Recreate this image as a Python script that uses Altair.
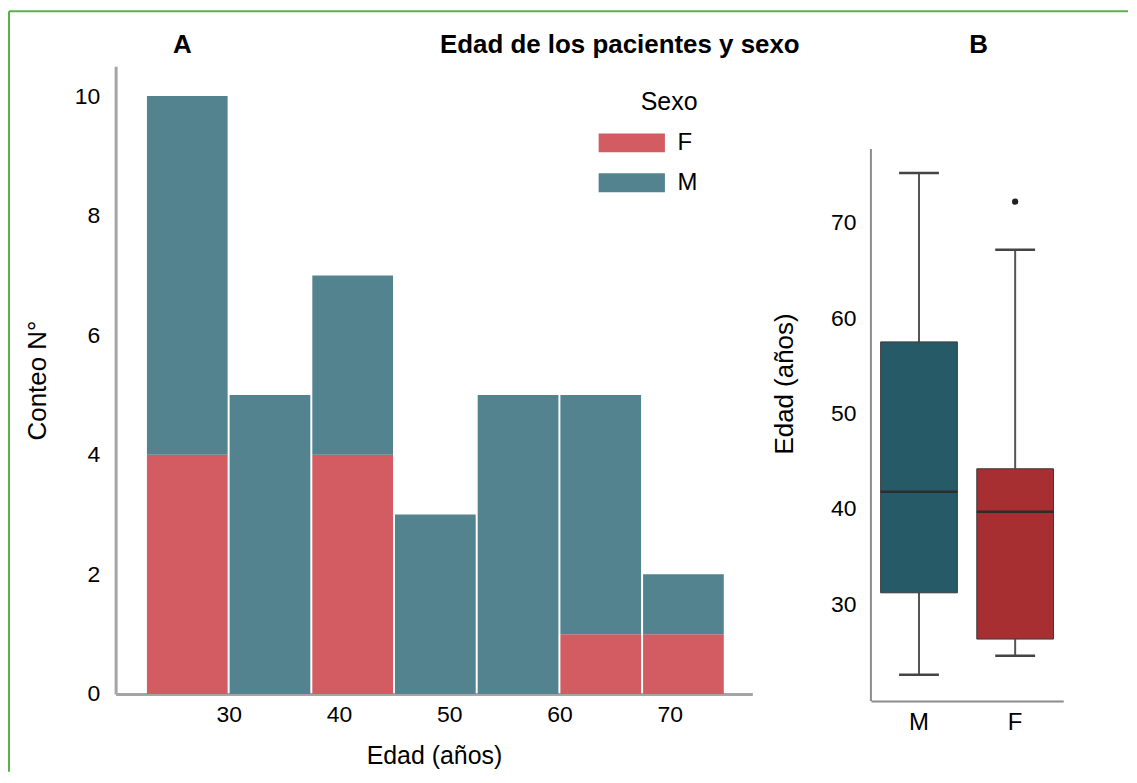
import altair as alt
import pandas as pd

# ---------------- Data ----------------
# Panel A: age histogram, stacked by sex
bin_start = [22.5, 30.0, 37.5, 45.0, 52.5, 60.0, 67.5]
bin_end = [30.0, 37.5, 45.0, 52.5, 60.0, 67.5, 75.0]
count_F = [4, 0, 4, 0, 0, 1, 1]
count_M = [6, 5, 3, 3, 5, 4, 1]
sexes = ["F", "M"]
hist_colors = ["#d35b62", "#53838e"]
x_ticks_A = [30, 40, 50, 60, 70]
y_ticks_A = [0, 2, 4, 6, 8, 10]

# Panel B: box plot summaries of age by sex
box_sex = ["M", "F"]
box_low = [22.6, 24.6]
box_q1 = [31.2, 26.35]
box_median = [41.8, 39.7]
box_q3 = [57.5, 44.2]
box_high = [75.2, 67.15]
outlier_sex = ["F"]
outlier_val = [72.2]
box_colors = ["#255a66", "#a82f31"]
y_ticks_B = [30, 40, 50, 60, 70]

FONT = "Liberation Sans"
AX_A = "#a5a5a5"
AX_B = "#8c8c8c"
GREEN = "#5ab04c"

# ---------------- Tables ----------------
rows = []
for s, e, f, m in zip(bin_start, bin_end, count_F, count_M):
    if f > 0:
        rows.append({"start": s, "end": e, "sexo": "F", "y0": 0, "y1": f})
    if m > 0:
        rows.append({"start": s, "end": e, "sexo": "M", "y0": f, "y1": f + m})
hist_df = pd.DataFrame(rows)

box_df = pd.DataFrame({
    "sexoB": box_sex, "low": box_low, "q1": box_q1, "median": box_median,
    "q3": box_q3, "high": box_high,
})
out_df = pd.DataFrame({"sexoB": outlier_sex, "edad": outlier_val})
one = pd.DataFrame({"k": [0]})

# ---------------- Panel A ----------------
WA, HA = 639, 630

xA = alt.X("start:Q", scale=alt.Scale(domain=[19.75, 77.5], nice=False, zero=False),
           axis=alt.Axis(values=x_ticks_A, title="Edad (años)", ticks=False, tickSize=0,
                         grid=False, labelPadding=10, titlePadding=17, domainColor=AX_A,
                         domainWidth=3, labelFontSize=23, titleFontSize=25))
yA = alt.Y("y0:Q", scale=alt.Scale(domain=[0, 10.5], nice=False),
           axis=alt.Axis(values=y_ticks_A, title="Conteo N°", ticks=False, tickSize=0,
                         grid=False, labelPadding=16, titlePadding=24, domainColor=AX_A,
                         domainWidth=3, labelFontSize=23, titleFontSize=26))

bars = alt.Chart(hist_df).mark_bar(xOffset=1, x2Offset=-1).encode(
    x=xA, x2="end:Q", y=yA, y2="y1:Q",
    color=alt.Color("sexo:N", scale=alt.Scale(domain=sexes, range=hist_colors),
                    legend=alt.Legend(title="Sexo", orient="none", legendX=482, legendY=24,
                                      symbolType="M-3.5,-1H3.5V1H-3.5Z", symbolSize=361,
                                      symbolOffset=24,
                                      symbolStrokeWidth=0, symbolOpacity=1,
                                      labelFontSize=24, titleFontSize=25, titleFontWeight="normal",
                                      labelOffset=34, rowPadding=16, titlePadding=16,
                                      titleAnchor="end", padding=0,
                                      labelFont=FONT, titleFont=FONT,
                                      labelColor="black", titleColor="black")),
)

title_A = alt.Chart(one).mark_text(text="A", font=FONT, fontSize=26, fontWeight="bold",
                                   align="center", baseline="alphabetic", color="black").encode(
    x=alt.value(67), y=alt.value(-13))
title_main = alt.Chart(one).mark_text(text="Edad de los pacientes y sexo", font=FONT, fontSize=26,
                                      fontWeight="bold", align="center", baseline="alphabetic",
                                      color="black").encode(
    x=alt.value(506), y=alt.value(-13))
border_top = alt.Chart(one).mark_rule(color=GREEN, strokeWidth=2).encode(
    x=alt.value(-107), x2=alt.value(1016), y=alt.value(-55))
border_left = alt.Chart(one).mark_rule(color=GREEN, strokeWidth=2).encode(
    x=alt.value(-107), y=alt.value(-55), y2=alt.value(708))

panel_A = alt.layer(border_top, border_left, bars, title_A, title_main).properties(
    width=WA, height=HA)

# ---------------- Panel B ----------------
WB, HB = 193, 637
xB = alt.X("sexoB:N", scale=alt.Scale(domain=box_sex, paddingInner=0, paddingOuter=0),
           axis=alt.Axis(title=None, labelAngle=0, ticks=False, tickSize=0, labelPadding=10,
                         grid=False, domainColor=AX_B, domainWidth=2, labelFontSize=24))
yscaleB = alt.Scale(domain=[19.87, 86.4], nice=False, zero=False)
yB_axis = alt.Axis(values=y_ticks_B, title="Edad (años)", domain=False, ticks=False, tickSize=0,
                   grid=False, labelPadding=15, titlePadding=33, labelFontSize=23,
                   titleFontSize=26)

base_B = alt.Chart(box_df)
axis_line_B = alt.Chart(one).mark_rule(color=AX_B, strokeWidth=2).encode(
    x=alt.value(0), y=alt.datum(19.87, scale=yscaleB), y2=alt.datum(77.73))
whisk_lo = base_B.mark_rule(color="#555555", strokeWidth=2).encode(
    x=xB, y=alt.Y("low:Q", scale=yscaleB, axis=yB_axis), y2="q1:Q")
whisk_hi = base_B.mark_rule(color="#555555", strokeWidth=2).encode(
    x=xB, y=alt.Y("q3:Q", scale=yscaleB), y2="high:Q")
boxes = base_B.mark_bar(size=77, stroke="#3a3a3a", strokeWidth=1).encode(
    x=xB, y=alt.Y("q1:Q", scale=yscaleB), y2="q3:Q",
    color=alt.Color("sexoB:N", scale=alt.Scale(domain=box_sex, range=box_colors), legend=None))
medians = base_B.mark_tick(size=77, thickness=2.5, color="#2c2c2c", opacity=1).encode(
    x=xB, y=alt.Y("median:Q", scale=yscaleB))
caps_lo = base_B.mark_tick(size=40, thickness=2.5, color="#444444", opacity=1).encode(
    x=xB, y=alt.Y("low:Q", scale=yscaleB))
caps_hi = base_B.mark_tick(size=40, thickness=2.5, color="#444444", opacity=1).encode(
    x=xB, y=alt.Y("high:Q", scale=yscaleB))
outliers = alt.Chart(out_df).mark_circle(size=40, color="#222222", opacity=1).encode(
    x=xB, y=alt.Y("edad:Q", scale=yscaleB))
title_B = alt.Chart(one).mark_text(text="B", font=FONT, fontSize=26, fontWeight="bold",
                                   align="center", baseline="alphabetic", color="black").encode(
    x=alt.value(108), y=alt.value(-13))

panel_B = alt.layer(axis_line_B, whisk_lo, whisk_hi, boxes, medians, caps_lo, caps_hi,
                    outliers, title_B).properties(width=WB, height=HB)

chart = alt.hconcat(panel_A, panel_B, spacing=119, bounds="flush").resolve_scale(
    color="independent"
).properties(
    padding={"left": 0, "top": 1, "right": 0, "bottom": 0},
    background="white",
).configure_view(strokeWidth=0).configure_axis(
    grid=False, labelFont=FONT, titleFont=FONT, labelColor="black", titleColor="black",
    titleFontWeight="normal"
)

chart.save("out.html", embed_options={"renderer": "svg", "actions": False})
